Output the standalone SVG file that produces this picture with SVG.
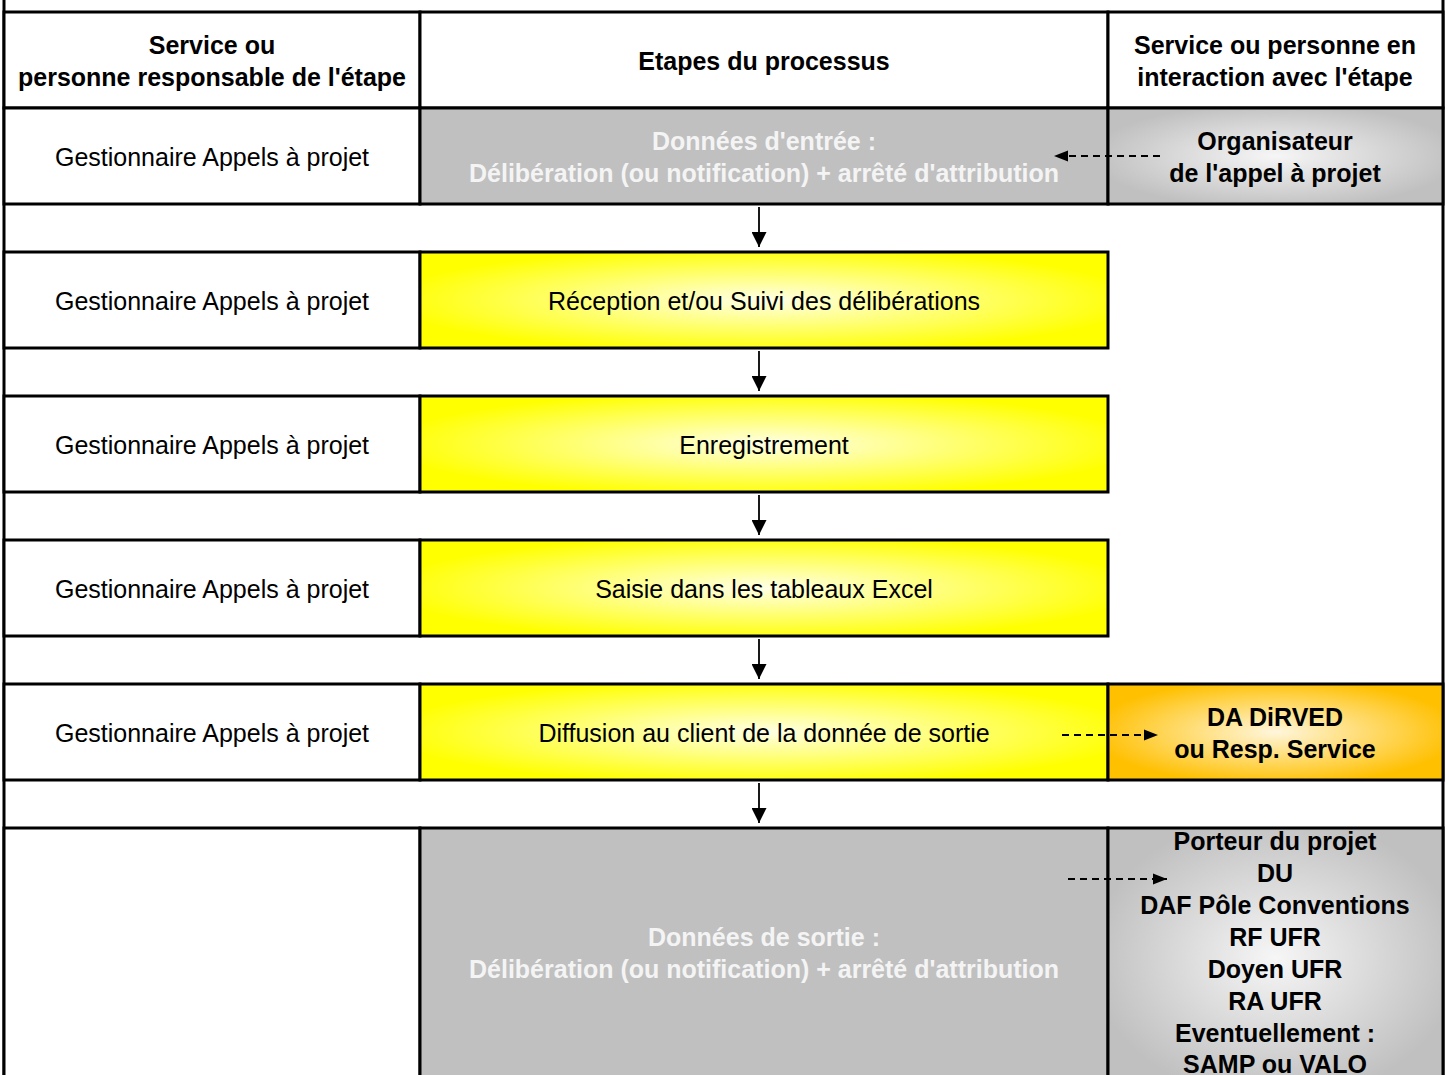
<svg xmlns="http://www.w3.org/2000/svg" width="1449" height="1075" viewBox="0 0 1449 1075">
<defs>
<radialGradient id="gy" cx="50%" cy="50%" r="55%"><stop offset="0" stop-color="#FFFFE6"/><stop offset="1" stop-color="#FFFF00"/></radialGradient>
<radialGradient id="go" cx="50%" cy="50%" r="55%"><stop offset="0" stop-color="#FFF6DC"/><stop offset="1" stop-color="#FFC000"/></radialGradient>
<radialGradient id="gg" cx="50%" cy="50%" r="55%"><stop offset="0" stop-color="#F6F6F6"/><stop offset="1" stop-color="#C0C0C0"/></radialGradient>
<marker id="ah" viewBox="0 0 10 10" refX="10" refY="5" markerWidth="15" markerHeight="15" markerUnits="userSpaceOnUse" orient="auto"><path d="M0,0 L10,5 L0,10 z" fill="#000"/></marker>
<marker id="ahs" viewBox="0 0 10 10" refX="10" refY="5" markerWidth="14" markerHeight="14" markerUnits="userSpaceOnUse" orient="auto"><path d="M0,1 L10,5 L0,9 z" fill="#000"/></marker>
</defs>
<style>
.c{stroke:#000;stroke-width:3}
.w{fill:#fff}
.g{fill:#C0C0C0}
.t{font-family:"Liberation Sans",Arial,sans-serif;font-size:25px;text-anchor:middle;fill:#000}
.b{font-weight:bold}
.wt{fill:#F4F4F4}
.dash{stroke:#000;stroke-width:1.8;stroke-dasharray:7,5;fill:none}
.arr{stroke:#000;stroke-width:1.8;fill:none}
</style>
<rect x="0" y="0" width="1449" height="1075" fill="#fff"/>
<g id="frame">
<line class="c" x1="4" y1="0" x2="4" y2="1075"/>
<line class="c" x1="1443" y1="0" x2="1443" y2="1075"/>
</g>
<g id="header">
<rect class="c w" x="4" y="12" width="416" height="96"/>
<rect class="c w" x="420" y="12" width="688" height="96"/>
<rect class="c w" x="1108" y="12" width="335" height="96"/>
<text class="t b" x="212" y="54">Service ou</text>
<text class="t b" x="212" y="86">personne responsable de l'étape</text>
<text class="t b" x="764" y="70">Etapes du processus</text>
<text class="t b" x="1275" y="54">Service ou personne en</text>
<text class="t b" x="1275" y="86">interaction avec l'étape</text>
</g>
<g id="r1-resp"><rect class="c w" x="4" y="108" width="416" height="96"/><text class="t" x="212" y="166">Gestionnaire Appels à projet</text></g>
<g id="r1-step"><rect class="c g" x="420" y="108" width="688" height="96"/><text class="t b wt" x="764" y="150">Données d'entrée :</text><text class="t b wt" x="764" y="182">Délibération (ou notification) + arrêté d'attribution</text></g>
<g id="r1-int"><rect class="c" fill="url(#gg)" x="1108" y="108" width="335" height="96"/><text class="t b" x="1275" y="150">Organisateur</text><text class="t b" x="1275" y="182">de l'appel à projet</text></g>

<g id="r2-resp"><rect class="c w" x="4" y="252" width="416" height="96"/><text class="t" x="212" y="310">Gestionnaire Appels à projet</text></g>
<g id="r2-step"><rect class="c" fill="url(#gy)" x="420" y="252" width="688" height="96"/><text class="t" x="764" y="310">Réception et/ou Suivi des délibérations</text></g>

<g id="r3-resp"><rect class="c w" x="4" y="396" width="416" height="96"/><text class="t" x="212" y="454">Gestionnaire Appels à projet</text></g>
<g id="r3-step"><rect class="c" fill="url(#gy)" x="420" y="396" width="688" height="96"/><text class="t" x="764" y="454">Enregistrement</text></g>

<g id="r4-resp"><rect class="c w" x="4" y="540" width="416" height="96"/><text class="t" x="212" y="598">Gestionnaire Appels à projet</text></g>
<g id="r4-step"><rect class="c" fill="url(#gy)" x="420" y="540" width="688" height="96"/><text class="t" x="764" y="598">Saisie dans les tableaux Excel</text></g>

<g id="r5-resp"><rect class="c w" x="4" y="684" width="416" height="96"/><text class="t" x="212" y="742">Gestionnaire Appels à projet</text></g>
<g id="r5-step"><rect class="c" fill="url(#gy)" x="420" y="684" width="688" height="96"/><text class="t" x="764" y="742">Diffusion au client de la donnée de sortie</text></g>
<g id="r5-int"><rect class="c" fill="url(#go)" x="1108" y="684" width="335" height="96"/><text class="t b" x="1275" y="726">DA DiRVED</text><text class="t b" x="1275" y="758">ou Resp. Service</text></g>

<g id="r6-resp"><rect class="c w" x="4" y="828" width="416" height="260"/></g>
<g id="r6-step"><rect class="c g" x="420" y="828" width="688" height="260"/><text class="t b wt" x="764" y="946">Données de sortie :</text><text class="t b wt" x="764" y="978">Délibération (ou notification) + arrêté d'attribution</text></g>
<g id="r6-int"><rect class="c" fill="url(#gg)" x="1108" y="828" width="335" height="260"/>
<text class="t b" x="1275" y="850">Porteur du projet</text>
<text class="t b" x="1275" y="882">DU</text>
<text class="t b" x="1275" y="914">DAF Pôle Conventions</text>
<text class="t b" x="1275" y="946">RF UFR</text>
<text class="t b" x="1275" y="978">Doyen UFR</text>
<text class="t b" x="1275" y="1010">RA UFR</text>
<text class="t b" x="1275" y="1042">Eventuellement :</text>
<text class="t b" x="1275" y="1073">SAMP ou VALO</text>
</g>
<g id="connectors">
<line class="arr" x1="759" y1="207" x2="759" y2="247" marker-end="url(#ah)"/>
<line class="arr" x1="759" y1="351" x2="759" y2="391" marker-end="url(#ah)"/>
<line class="arr" x1="759" y1="495" x2="759" y2="535" marker-end="url(#ah)"/>
<line class="arr" x1="759" y1="639" x2="759" y2="679" marker-end="url(#ah)"/>
<line class="arr" x1="759" y1="783" x2="759" y2="823" marker-end="url(#ah)"/>
<line class="dash" x1="1160" y1="156" x2="1054" y2="156" marker-end="url(#ahs)"/>
<line class="dash" x1="1062" y1="735" x2="1158" y2="735" marker-end="url(#ahs)"/>
<line class="dash" x1="1068" y1="879" x2="1167" y2="879" marker-end="url(#ahs)"/>
</g>
</svg>
